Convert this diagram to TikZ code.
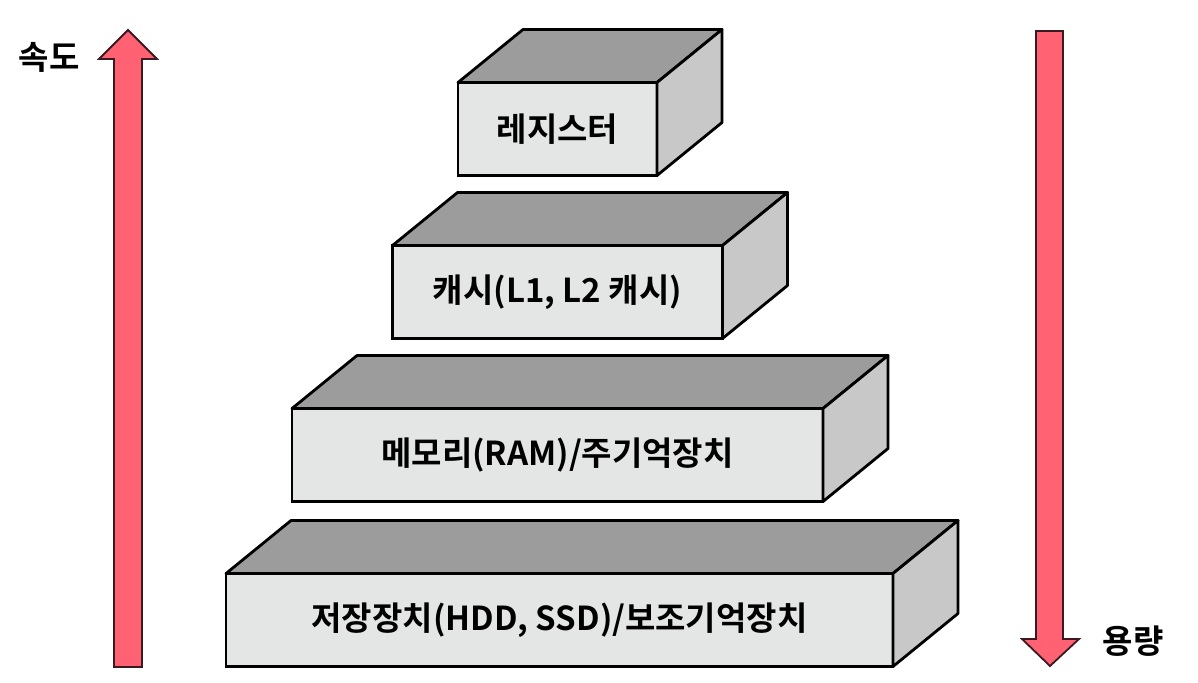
\documentclass[tikz,border=0pt]{standalone}
\usepackage{fontspec}
\setmainfont{Noto Sans CJK KR}[BoldFont={Noto Sans CJK KR Bold}]
\usepackage{tikz}
\usetikzlibrary{positioning}

\definecolor{frontgray}{HTML}{E4E6E6}
\definecolor{topgray}{HTML}{9C9C9C}
\definecolor{sidegray}{HTML}{C8C8C8}
\definecolor{arrowred}{HTML}{FF6272}
\definecolor{arrowline}{HTML}{3A1A20}

\begin{document}
\begin{tikzpicture}[
    x=1pt, y=-1pt,
    slab/.style={rectangle, draw, line width=2.8pt, fill=frontgray, minimum height=93pt, inner sep=0pt, outer sep=0pt, font=\fontsize{33}{36}\selectfont\bfseries},
    topface/.style={draw, line width=2.8pt, fill=topgray, line join=round},
    sideface/.style={draw, line width=2.8pt, fill=sidegray, line join=round},
    bigarrow/.style={draw=arrowline, line width=1.8pt, fill=arrowred, line join=miter},
    side_label/.style={font=\fontsize{33}{36}\selectfont\bfseries},
    node distance=70pt
]
    \useasboundingbox (0,0) rectangle (1198,682);

    % 계층 상자
    \node[slab, minimum width=199pt] (reg) at (557.5,129) {레지스터};
    \node[slab, minimum width=330pt, below=of reg] (cache) {캐시(L1, L2 캐시)};
    \node[slab, minimum width=531pt, below=of cache] (mem) {메모리(RAM)/주기억장치};
    \node[slab, minimum width=667pt, below=72pt of mem, xshift=2pt] (disk) {저장장치(HDD, SSD)/보조기억장치};

    % 윗면과 옆면
    \foreach \n in {reg, cache, mem, disk} {
        \draw[topface] (\n.north west) -- ++(65,-53) -- ([shift={(65,-53)}]\n.north east) -- (\n.north east) -- cycle;
        \draw[sideface] (\n.north east) -- ++(65,-53) -- ([shift={(65,-53)}]\n.south east) -- (\n.south east) -- cycle;
    }

    % 속도 / 용량 화살표
    \draw[bigarrow] (114,667) -- (114,59) -- (99,59) -- (128,30) -- (157,59) -- (142,59) -- (142,667) -- cycle;
    \draw[bigarrow] (1036,31) -- (1063,31) -- (1063,639) -- (1079,639) -- (1050,666) -- (1022,639) -- (1036,639) -- cycle;

    \node[side_label] (speed) at (49,57) {속도};
    \node[side_label] (size) at (1133,641) {용량};
\end{tikzpicture}
\end{document}
